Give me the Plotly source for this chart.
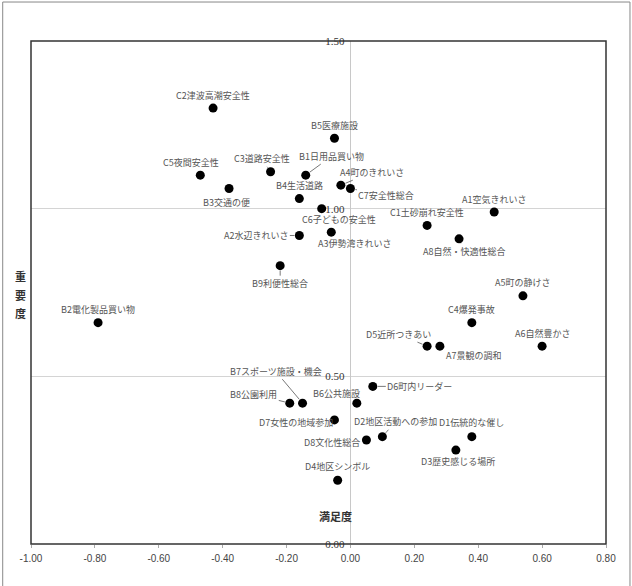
import plotly.graph_objects as go

# ---- data ----
labels = ["C2津波高潮安全性", "B5医療施設", "C5夜間安全性", "C3道路安全性", "B1日用品買い物",
          "B3交通の便", "B4生活道路", "A4町のきれいさ", "C7安全性総合", "C6子どもの安全性",
          "A1空気きれいさ", "C1土砂崩れ安全性", "A3伊勢湾きれいさ", "A2水辺きれいさ", "A8自然・快適性総合",
          "B9利便性総合", "A5町の静けさ", "B2電化製品買い物", "C4爆発事故", "D5近所つきあい",
          "A7景観の調和", "A6自然豊かさ", "D6町内リーダー", "B8公園利用", "B7スポーツ施設・機会",
          "B6公共施設", "D7女性の地域参加", "D2地区活動への参加", "D1伝統的な催し", "D8文化性総合",
          "D3歴史感じる場所", "D4地区シンボル"]
satisfaction = [-0.43, -0.05, -0.47, -0.25, -0.14,
                -0.38, -0.16, -0.03, 0.00, -0.09,
                0.45, 0.24, -0.06, -0.16, 0.34,
                -0.22, 0.54, -0.79, 0.38, 0.24,
                0.28, 0.60, 0.07, -0.19, -0.15,
                0.02, -0.05, 0.10, 0.38, 0.05,
                0.33, -0.04]
importance = [1.30, 1.21, 1.10, 1.11, 1.10,
              1.06, 1.03, 1.07, 1.06, 1.00,
              0.99, 0.95, 0.93, 0.92, 0.91,
              0.83, 0.74, 0.66, 0.66, 0.59,
              0.59, 0.59, 0.47, 0.42, 0.42,
              0.42, 0.37, 0.32, 0.32, 0.31,
              0.28, 0.19]
x_tick_vals = [-1.0, -0.8, -0.6, -0.4, -0.2, 0.0, 0.2, 0.4, 0.6, 0.8]
x_tick_text = ["-1.00", "-0.80", "-0.60", "-0.40", "-0.20", "0.00", "0.20", "0.40", "0.60", "0.80"]
y_tick_vals = [0.0, 0.5, 1.0, 1.5]
y_tick_text = ["0.00", "0.50", "1.00", "1.50"]

# ---- label placement (pixel offsets from the point, leader line flag) ----
label_style = {
    "C2津波高潮安全性": (0, -13, False), "B5医療施設": (0, -13, False), "C5夜間安全性": (-9, -13, False),
    "C3道路安全性": (-9, -13, True), "B1日用品買い物": (26, -19, True), "B3交通の便": (-3, 14, True),
    "B4生活道路": (0, -13, False), "A4町のきれいさ": (31, -13, True), "C7安全性総合": (36, 7, True),
    "C6子どもの安全性": (17, 11, False), "A1空気きれいさ": (0, -13, False), "C1土砂崩れ安全性": (0, -13, False),
    "A3伊勢湾きれいさ": (23, 11, False), "A2水辺きれいさ": (-43, 0, True), "A8自然・快適性総合": (5, 13, True),
    "B9利便性総合": (0, 18, True), "A5町の静けさ": (0, -13, False), "B2電化製品買い物": (0, -13, False),
    "C4爆発事故": (0, -13, False), "D5近所つきあい": (-29, -12, True), "A7景観の調和": (34, 9, True),
    "A6自然豊かさ": (0, -13, False), "D6町内リーダー": (47, 0, True), "B8公園利用": (-36, -9, True),
    "B7スポーツ施設・機会": (-27, -32, True), "B6公共施設": (-20, -10, False), "D7女性の地域参加": (-38, 3, False),
    "D2地区活動への参加": (13, -15, True), "D1伝統的な催し": (0, -14, False), "D8文化性総合": (-34, 2, False),
    "D3歴史感じる場所": (2, 11, False), "D4地区シンボル": (0, -14, False),
}

FONT = "Noto Sans CJK JP, Noto Sans, sans-serif"

fig = go.Figure()
fig.add_trace(go.Scatter(
    x=satisfaction, y=importance, mode="markers",
    marker=dict(color="black", size=9),
    text=labels, hoverinfo="text", showlegend=False,
))

annotations = []
for lab, xv, yv in zip(labels, satisfaction, importance):
    ax, ay, line = label_style[lab]
    annotations.append(dict(
        x=xv, y=yv, xref="x", yref="y", text=lab, showarrow=True,
        ax=ax, ay=ay, arrowhead=0, arrowwidth=0.8, standoff=5,
        arrowcolor="#555555" if line else "rgba(0,0,0,0)",
        font=dict(family=FONT, size=9, color="#555555"),
    ))

# axis titles
for ch, yp in zip(["重", "要", "度"], [0.5328, 0.4950, 0.4592]):
    annotations.append(dict(x=-0.0191, y=yp, xref="paper", yref="paper", text="<b>" + ch + "</b>",
                            showarrow=False, font=dict(family=FONT, size=11, color="#333333"),
                            xanchor="center", yanchor="middle"))
annotations.append(dict(x=0.5304, y=0.0557, xref="paper", yref="paper", text="<b>満足度</b>",
                        showarrow=False, font=dict(family=FONT, size=11, color="#333333"),
                        xanchor="center", yanchor="middle"))

fig.update_layout(
    width=632, height=586,
    margin=dict(l=31, r=26, t=41, b=42),
    paper_bgcolor="white", plot_bgcolor="white",
    annotations=annotations,
    xaxis=dict(range=[-1.0, 0.8], tickvals=x_tick_vals, ticktext=x_tick_text,
               showgrid=False, zeroline=True, zerolinecolor="#c8c8c8", zerolinewidth=1,
               ticks="outside", ticklen=3, tickcolor="#aaaaaa", showline=False,
               tickfont=dict(family="Liberation Sans, Arial, sans-serif", size=10, color="#444444"),
               ticklabelstandoff=2),
    yaxis=dict(range=[0, 1.5], tickvals=y_tick_vals, ticktext=y_tick_text,
               anchor="free", position=1.0 / 1.8, showline=False,
               showgrid=True, gridcolor="#d4d4d4", gridwidth=1, zeroline=False, ticks="",
               tickfont=dict(family="Liberation Serif, Times New Roman, serif", size=11, color="#333333"),
               ticklabelstandoff=6),
    shapes=[
        dict(type="rect", xref="paper", yref="paper", x0=0, x1=1, y0=0, y1=1,
             line=dict(color="#333333", width=1.5), layer="above"),
        dict(type="rect", xref="paper", yref="paper", x0=-0.0492, x1=1.0417, y0=-0.3, y1=1.0775,
             line=dict(color="#888888", width=1), layer="below"),
    ],
)

fig.write_html("out.html")
